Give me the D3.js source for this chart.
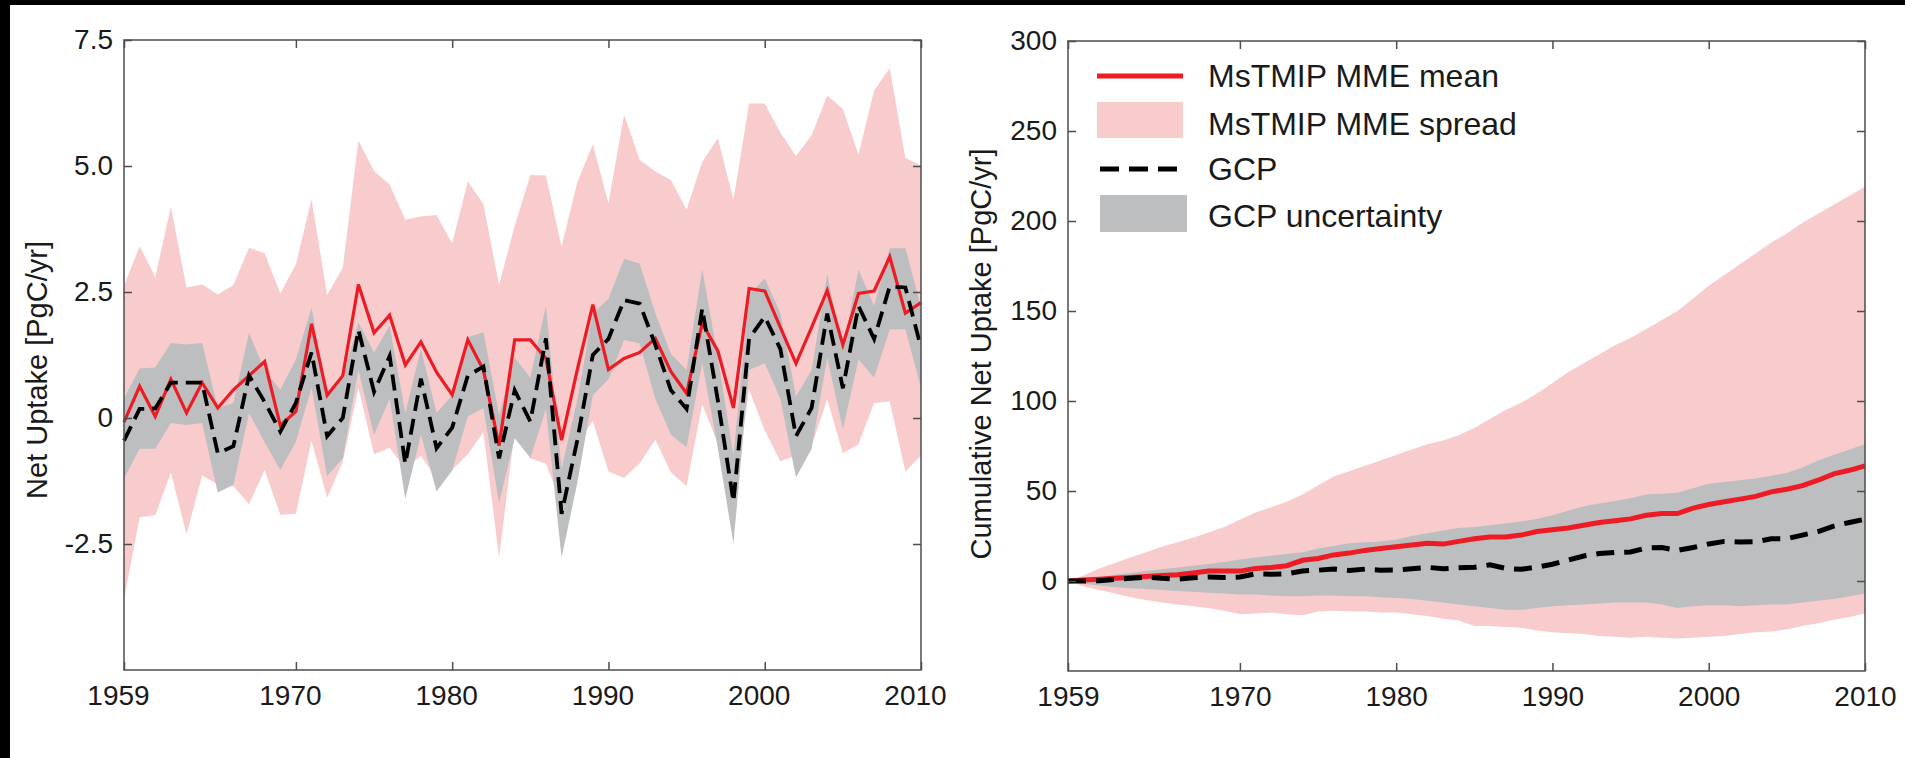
<!DOCTYPE html>
<html>
<head>
<meta charset="utf-8">
<script src="https://cdn.jsdelivr.net/npm/d3@7"></script>
<style>
  html, body { margin: 0; padding: 0; background: #000; overflow: hidden; }
  #chart { display: block; }
  text { font-family: "Liberation Sans", Arial, Helvetica, sans-serif; fill: #1a1a1a; }
</style>
</head>
<body>
<svg id="chart" width="1905" height="758"></svg>
<script>
/* global d3 */
const years = d3.range(1959, 2011);

// Annual net uptake [PgC/yr], left panel
const mmeMean = [-0.08, 0.63, 0.03, 0.77, 0.10, 0.70, 0.20, 0.56, 0.84, 1.12, -0.15, 0.13, 1.87, 0.45, 0.84, 2.65, 1.69, 2.04, 1.05, 1.51,
  0.91, 0.46, 1.55, 0.95, -0.55, 1.55, 1.55, 1.18, -0.44, 0.95, 2.25, 0.96, 1.18, 1.30, 1.58, 0.92, 0.49, 1.88, 1.33, 0.20,
  2.57, 2.52, 1.80, 1.08, 1.80, 2.53, 1.45, 2.47, 2.52, 3.20, 2.08, 2.29];
const mmeHigh = [2.62, 3.41, 2.80, 4.19, 2.59, 2.65, 2.45, 2.64, 3.38, 3.27, 2.47, 3.05, 4.34, 2.44, 2.98, 5.50, 4.90, 4.63, 3.94, 4.00,
  4.03, 3.46, 4.69, 4.24, 2.64, 3.81, 4.82, 4.81, 3.40, 4.67, 5.43, 4.26, 6.02, 5.12, 4.89, 4.72, 4.13, 5.08, 5.55, 4.33,
  6.24, 6.24, 5.66, 5.20, 5.61, 6.40, 6.13, 5.23, 6.50, 6.94, 5.16, 5.01];
const mmeLow = [-3.60, -1.97, -1.93, -1.08, -2.31, -1.14, -1.32, -1.35, -1.71, -1.03, -1.92, -1.90, -0.45, -1.58, -0.87, 0.60, -0.72, -0.59, -1.00, -0.75,
  -1.20, -1.03, -0.72, -0.28, -2.77, -0.26, -0.80, -0.91, -1.70, -0.50, -0.06, -1.06, -1.19, -0.90, -0.43, -1.08, -1.35, 0.27, -0.50, -1.60,
  0.56, -0.25, -0.86, -0.75, -0.55, 0.37, -0.70, -0.52, 0.30, 0.33, -1.06, -0.75];
const gcp = [-0.45, 0.18, 0.19, 0.70, 0.70, 0.70, -0.70, -0.56, 0.84, 0.32, -0.27, 0.30, 1.30, -0.36, 0.00, 1.75, 0.52, 1.23, -0.91, 0.78,
  -0.60, -0.19, 0.84, 1.02, -0.80, 0.55, -0.07, 1.58, -1.90, -0.45, 1.25, 1.57, 2.34, 2.27, 1.45, 0.55, 0.18, 2.17, 0.35, -1.66,
  1.58, 2.01, 1.37, -0.36, 0.20, 2.07, 0.59, 2.22, 1.57, 2.61, 2.59, 1.40];
const gcpHigh = [0.39, 0.98, 1.00, 1.49, 1.46, 1.49, 0.20, 0.30, 1.69, 0.95, 0.56, 1.16, 2.19, 0.45, 0.80, 1.90, 1.30, 1.83, 0.10, 1.37,
  0.10, 0.45, 1.60, 1.70, 0.06, 1.20, 0.80, 2.22, -1.00, 0.35, 2.08, 2.36, 3.16, 3.06, 2.08, 1.27, 0.95, 2.95, 1.20, -0.75,
  2.45, 2.77, 2.08, 0.42, 0.95, 2.85, 1.37, 2.94, 2.22, 3.37, 3.37, 2.20];
const gcpLow = [-1.20, -0.61, -0.61, -0.10, -0.14, -0.10, -1.48, -1.33, 0.10, -0.48, -1.03, -0.47, 0.60, -1.15, -0.80, 0.95, -0.33, 0.38, -1.60, -0.33,
  -1.46, -1.04, 0.03, 0.20, -1.68, -0.40, -0.79, 0.17, -2.77, -1.30, 0.45, 0.77, 1.55, 1.48, 0.38, -0.33, -0.58, 1.09, -0.60, -2.49,
  0.95, 1.09, 0.38, -1.18, -0.61, 1.20, -0.22, 1.16, 0.80, 1.76, 1.76, 0.60];

// Cumulative net uptake [PgC], right panel
const cumMean = [0, 0.5, 1, 1.5, 2, 2.5, 3, 3.5, 4.5, 5.5, 5.5, 5.5, 7, 7.5, 8.5, 11.5, 12.5, 14.5, 15.5, 17,
  18, 19, 20, 21, 20.5, 22, 23.5, 24.5, 24.5, 25.5, 27.5, 28.5, 29.5, 31, 32.5, 33.5, 34.5, 36.5, 37.5, 37.5,
  40.5, 42.5, 44, 45.5, 47, 49.5, 51, 53, 56, 59.5, 61.5, 64];
const cumHigh = [0, 3, 7, 10, 13, 16, 19, 21.5, 24, 27, 30, 34, 38, 41, 44, 48, 53, 58, 61, 64,
  67, 70, 73, 76, 78, 81, 85, 90, 95, 99, 104, 110, 116, 121, 126, 131, 135, 140, 145, 150,
  157, 164, 170, 176, 182, 188, 193, 199, 204, 209, 214, 219];
const cumLow = [0, -3, -5, -7, -9, -10.5, -12, -13, -14, -15, -16.5, -18.5, -18, -17.5, -18.5, -19, -17, -16.5, -17, -17,
  -17.5, -17.5, -18.5, -19.5, -21, -22, -25, -25, -25.5, -26, -27.5, -28.5, -29, -29.5, -30.5, -31, -31.5, -31, -31.5, -32,
  -31.5, -31, -30.5, -29.5, -28.5, -28, -27, -25, -23.5, -21.5, -20, -18];
const cumGcp = [0, 0, 0.2, 0.9, 1.5, 2.2, 1.5, 1, 1.8, 2.2, 1.9, 2.2, 4, 3.8, 4, 5.6, 6, 6.7, 5.8, 6.6,
  6, 6.1, 6.8, 7.6, 6.8, 7.3, 7.6, 9, 7, 6.5, 7.7, 9.3, 11.6, 13.9, 15.3, 15.9, 16.1, 18.3, 18.6, 17,
  18.6, 20.6, 22, 21.6, 21.8, 23.5, 23.5, 25.5, 27.5, 30.5, 32.5, 34.3];
const cumGcpHigh = [0, 1, 2, 3.5, 4.5, 5.5, 6.5, 7.5, 8.5, 9.5, 10.5, 12, 13, 14, 15, 16, 18, 19.5, 21, 21.5,
  22, 23, 25, 26.5, 28, 29.5, 30, 31, 32, 33, 34.5, 36.5, 39, 41.5, 43, 44.5, 46, 48, 48.5, 49,
  51.5, 54, 55, 56, 57, 58.5, 60, 63, 67, 70, 73, 76];
const cumGcpLow = [0, -1.5, -2.5, -3.5, -4, -4.5, -5, -5.5, -6, -6.5, -7, -7.5, -7.5, -8, -8.5, -8.5, -8, -8, -8.5, -8.5,
  -9, -9.5, -10, -11, -12, -13, -14, -15, -16, -16, -15, -14, -13.5, -13, -12.5, -12, -12, -12, -13, -15,
  -14, -13.5, -13.5, -14, -13.5, -13, -13, -12, -11, -10, -8.5, -7];

const xTickValues = [1959, 1970, 1980, 1990, 2000, 2010];
const annualTicks = [-2.5, 0, 2.5, 5, 7.5];
const annualTickLabels = ['-2.5', '0', '2.5', '5.0', '7.5'];
const cumulativeTicks = [0, 50, 100, 150, 200, 250, 300];
const cumulativeTickLabels = ['0', '50', '100', '150', '200', '250', '300'];

const legendLabels = ['MsTMIP MME mean', 'MsTMIP MME spread', 'GCP', 'GCP uncertainty'];

const colors = {
  spread: '#f8cbcd',
  uncertainty: '#bcbec0',
  mean: '#ed1c24',
  gcp: '#000000',
  frame: '#4d4d4d',
};

const svg = d3.select('#chart');

// Page background: white sheet with the black strip on the top and left
svg.append('rect').attr('width', 1905).attr('height', 758).attr('fill', '#000');
svg.append('rect').attr('x', 10).attr('y', 5).attr('width', 1895).attr('height', 753).attr('fill', '#fff');

const drawPanel = (cfg) => {
  const x = d3.scaleLinear().domain([1959, 2010]).range([cfg.left, cfg.right]);
  const y = d3.scaleLinear().domain(cfg.yDomain).range([cfg.bottom, cfg.top]);

  const rows = years.map((year, i) => ({
    year,
    mean: cfg.mean[i],
    high: cfg.high[i],
    low: cfg.low[i],
    gcp: cfg.gcp[i],
    gcpHigh: cfg.gcpHigh[i],
    gcpLow: cfg.gcpLow[i],
  }));

  const g = svg.append('g');

  // MME spread
  g.append('path')
    .datum(rows)
    .attr('fill', colors.spread)
    .attr('d', d3.area().x((d) => x(d.year)).y0((d) => y(d.low)).y1((d) => y(d.high)));

  // GCP uncertainty
  g.append('path')
    .datum(rows)
    .attr('fill', colors.uncertainty)
    .attr('d', d3.area().x((d) => x(d.year)).y0((d) => y(d.gcpLow)).y1((d) => y(d.gcpHigh)));

  // MME mean
  g.append('path')
    .datum(rows)
    .attr('fill', 'none')
    .attr('stroke', colors.mean)
    .attr('stroke-width', cfg.meanWidth)
    .attr('d', d3.line().x((d) => x(d.year)).y((d) => y(d.mean)));

  // GCP
  g.append('path')
    .datum(rows)
    .attr('fill', 'none')
    .attr('stroke', colors.gcp)
    .attr('stroke-width', cfg.gcpWidth)
    .attr('stroke-dasharray', cfg.dash)
    .attr('d', d3.line().x((d) => x(d.year)).y((d) => y(d.gcp)));

  // Frame
  g.append('rect')
    .attr('x', cfg.left)
    .attr('y', cfg.top)
    .attr('width', cfg.right - cfg.left)
    .attr('height', cfg.bottom - cfg.top)
    .attr('fill', 'none')
    .attr('stroke', colors.frame)
    .attr('stroke-width', 1.5);

  const styleAxis = (sel) => {
    sel.select('.domain').remove();
    sel.attr('color', colors.frame);
    sel.selectAll('.tick line').attr('stroke-width', 1.5);
    sel.selectAll('text').style('font-size', '28px');
  };

  // Render x axes
  g.append('g')
    .attr('transform', `translate(0, ${cfg.bottom})`)
    .call(
      d3.axisBottom(x).tickValues(xTickValues).tickFormat(d3.format('d'))
        .tickSizeInner(-8).tickSizeOuter(0).tickPadding(15)
    )
    .call(styleAxis)
    .selectAll('text')
    .attr('x', cfg.xLabelShift);

  g.append('g')
    .attr('transform', `translate(0, ${cfg.top})`)
    .call(d3.axisTop(x).tickValues(xTickValues).tickFormat('').tickSizeInner(-8).tickSizeOuter(0))
    .call(styleAxis);

  // Render y axes
  g.append('g')
    .attr('transform', `translate(${cfg.left}, 0)`)
    .call(
      d3.axisLeft(y).tickValues(cfg.yTicks).tickFormat((d, i) => cfg.yLabels[i])
        .tickSizeInner(-8).tickSizeOuter(0).tickPadding(11)
    )
    .call(styleAxis);

  g.append('g')
    .attr('transform', `translate(${cfg.right}, 0)`)
    .call(d3.axisRight(y).tickValues(cfg.yTicks).tickFormat('').tickSizeInner(-8).tickSizeOuter(0))
    .call(styleAxis);

  // Render y axis label
  g.append('text')
    .attr('transform', `translate(${cfg.labelX}, ${cfg.labelY}) rotate(-90)`)
    .attr('text-anchor', 'middle')
    .style('font-size', '29px')
    .text(cfg.label);

  return { x, y, g };
};

drawPanel({
  left: 124, right: 921, top: 40, bottom: 670,
  yDomain: [-5, 7.5],
  yTicks: annualTicks, yLabels: annualTickLabels,
  mean: mmeMean, high: mmeHigh, low: mmeLow,
  gcp, gcpHigh, gcpLow,
  meanWidth: 3.2, gcpWidth: 3.8, dash: '16 8',
  xLabelShift: -6,
  label: 'Net Uptake [PgC/yr]', labelX: 47, labelY: 370,
});

const right = drawPanel({
  left: 1068, right: 1865, top: 41, bottom: 671,
  yDomain: [-50, 300],
  yTicks: cumulativeTicks, yLabels: cumulativeTickLabels,
  mean: cumMean, high: cumHigh, low: cumLow,
  gcp: cumGcp, gcpHigh: cumGcpHigh, gcpLow: cumGcpLow,
  meanWidth: 5, gcpWidth: 5, dash: '18 10',
  xLabelShift: 0,
  label: 'Cumulative Net Uptake [PgC/yr]', labelX: 991, labelY: 354,
});

// Legend (right panel)
const legend = right.g.append('g');

legend.append('line')
  .attr('x1', 1097).attr('x2', 1183).attr('y1', 76).attr('y2', 76)
  .attr('stroke', colors.mean).attr('stroke-width', 5);

legend.append('rect')
  .attr('x', 1097).attr('y', 102).attr('width', 86).attr('height', 36)
  .attr('fill', colors.spread);

legend.append('line')
  .attr('x1', 1100).attr('x2', 1177).attr('y1', 169).attr('y2', 169)
  .attr('stroke', colors.gcp).attr('stroke-width', 5).attr('stroke-dasharray', '19 10');

legend.append('rect')
  .attr('x', 1100).attr('y', 195).attr('width', 87).attr('height', 37)
  .attr('fill', colors.uncertainty);

legend.selectAll('text.legend-label')
  .data(legendLabels)
  .join('text')
  .attr('class', 'legend-label')
  .attr('x', 1208)
  .attr('y', (d, i) => [87, 135, 180, 227][i])
  .style('font-size', '32px')
  .text((d) => d);
</script>
</body>
</html>
